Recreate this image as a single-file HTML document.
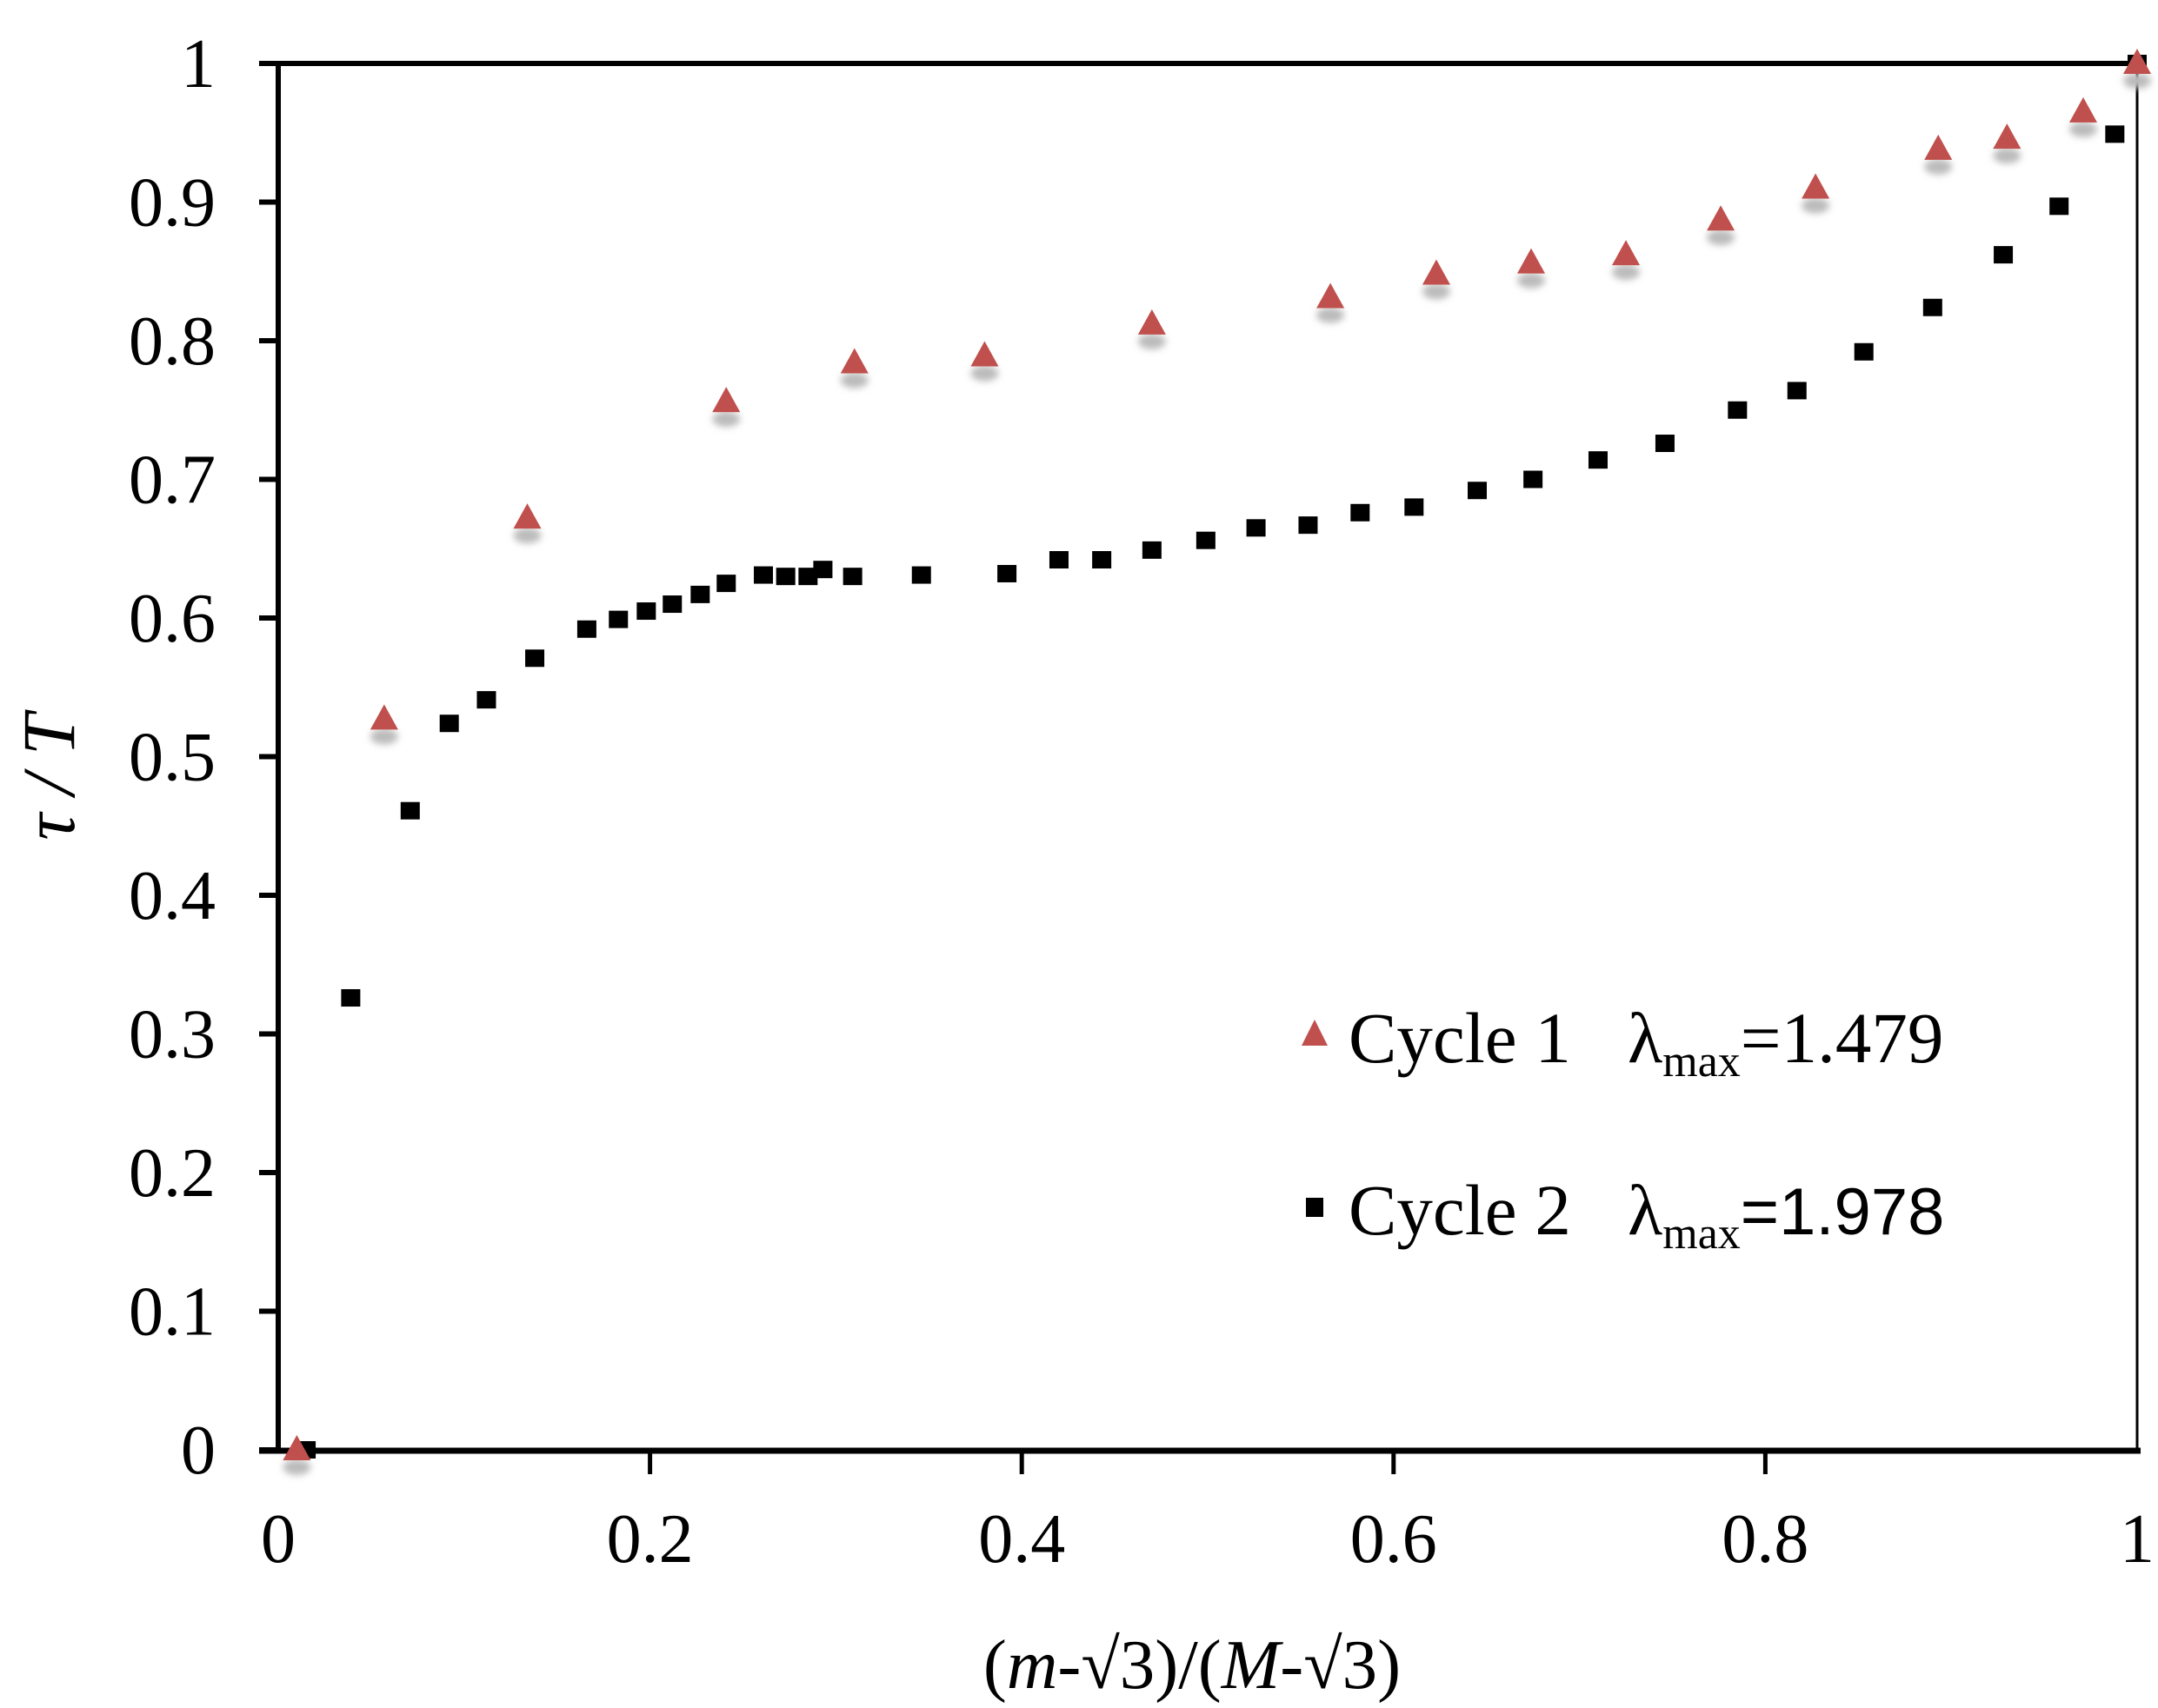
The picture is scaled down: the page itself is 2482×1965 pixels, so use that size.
<!DOCTYPE html>
<html><head><meta charset="utf-8"><style>
html,body{margin:0;padding:0;background:#fff;}
svg{display:block;}
text{font-family:"Liberation Serif","DejaVu Serif",serif;fill:#000;}
</style></head><body>
<svg id="chart" width="2482" height="1965" viewBox="0 0 2482 1965" xmlns="http://www.w3.org/2000/svg">
<defs><filter id="sh" x="-50%" y="-50%" width="200%" height="250%"><feGaussianBlur stdDeviation="4"/></filter></defs>
<g id="frame">
<line x1="298" y1="73" x2="2462" y2="73" stroke="#000" stroke-width="6"/>
<line x1="2458" y1="73" x2="2458" y2="1668" stroke="#000" stroke-width="3"/>
<line x1="320" y1="70" x2="320" y2="1672" stroke="#000" stroke-width="6"/>
<line x1="298" y1="1669" x2="2462" y2="1669" stroke="#000" stroke-width="7"/>
</g>
<g id="ticks"></g>
<g id="marks"></g>
<text transform="translate(85,894) rotate(-90)" text-anchor="middle" font-size="86" font-style="italic">τ / T</text>
<text x="1371" y="1942" text-anchor="middle" font-size="81">(<tspan font-style="italic">m</tspan>-√3)/(<tspan font-style="italic">M</tspan>-√3)</text>
<g>
<polygon points="1512,1173 1527,1203 1497,1203" fill="#c0504d"/>
<text x="1551" y="1222" font-size="83">Cycle 1</text>
<text x="1872" y="1222" font-size="83">λ<tspan font-size="52" dy="16">max</tspan><tspan dy="-16">=1.479</tspan></text>
<rect x="1502" y="1378" width="20" height="22" fill="#000"/>
<text x="1551" y="1420" font-size="83">Cycle 2</text>
<text x="1872" y="1420" font-size="83">λ<tspan font-size="52" dy="16">max</tspan><tspan dy="-16" font-family="Liberation Sans, sans-serif" font-size="76">=1.978</tspan></text>
</g>
</svg>
<script>
const xTicks = [0, 0.2, 0.4, 0.6, 0.8, 1];
const xTickLabels = ["0", "0.2", "0.4", "0.6", "0.8", "1"];
const yTicks = [0, 0.1, 0.2, 0.3, 0.4, 0.5, 0.6, 0.7, 0.8, 0.9, 1];
const yTickLabels = ["0", "0.1", "0.2", "0.3", "0.4", "0.5", "0.6", "0.7", "0.8", "0.9", "1"];
const cycle1X = [0.01, 0.057, 0.134, 0.241, 0.310, 0.380, 0.470, 0.566, 0.623, 0.674, 0.725, 0.776, 0.827, 0.893, 0.930, 0.971, 1.0];
const cycle1Y = [0, 0.527, 0.672, 0.756, 0.784, 0.789, 0.812, 0.831, 0.848, 0.856, 0.862, 0.887, 0.910, 0.938, 0.946, 0.965, 1.0];
const cycle2X = [0.015, 0.039, 0.071, 0.092, 0.112, 0.138, 0.166, 0.183, 0.198, 0.212, 0.227, 0.241, 0.261, 0.273, 0.285, 0.293, 0.309, 0.346, 0.392, 0.420, 0.443, 0.470, 0.499, 0.526, 0.554, 0.582, 0.611, 0.645, 0.675, 0.710, 0.746, 0.785, 0.817, 0.853, 0.890, 0.928, 0.958, 0.988, 1.0];
const cycle2Y = [0, 0.326, 0.461, 0.524, 0.541, 0.571, 0.592, 0.599, 0.605, 0.610, 0.617, 0.625, 0.631, 0.630, 0.630, 0.635, 0.630, 0.631, 0.632, 0.642, 0.642, 0.649, 0.656, 0.665, 0.667, 0.676, 0.680, 0.692, 0.700, 0.714, 0.726, 0.750, 0.764, 0.792, 0.824, 0.862, 0.897, 0.949, 1.0];

const NS = "http://www.w3.org/2000/svg";
const X0 = 320, X1 = 2458, Y0 = 1668, Y1 = 73;
function sx(v){ return X0 + v * (X1 - X0); }
function sy(v){ return Y0 - v * (Y0 - Y1); }
function mk(tag, attrs, parent){
  const e = document.createElementNS(NS, tag);
  for (const k in attrs) e.setAttribute(k, attrs[k]);
  parent.appendChild(e);
  return e;
}
const ticks = document.getElementById('ticks');
const marks = document.getElementById('marks');
xTicks.forEach((v, i) => {
  if (v > 0 && v < 1) {
    const t = mk('line', {x1: sx(v), y1: Y0, x2: sx(v), y2: Y0 + 28, stroke: '#000', 'stroke-width': 5}, ticks);
    
    
  }
  const l = mk('text', {x: sx(v), y: 1797, 'text-anchor': 'middle', 'font-size': 80}, ticks);
  l.textContent = xTickLabels[i];
  
  
});
yTicks.forEach((v, i) => {
  const t = mk('line', {x1: 298, y1: sy(v), x2: X0, y2: sy(v), stroke: '#000', 'stroke-width': 6}, ticks);
  
  
  const l = mk('text', {x: 248, y: sy(v) + 27, 'text-anchor': 'end', 'font-size': 80}, ticks);
  l.textContent = yTickLabels[i];
  
  
});
cycle2X.forEach((v, i) => {
  const x = sx(v), y = sy(cycle2Y[i]);
  const r = mk('rect', {x: x - 11, y: y - 10, width: 22, height: 20, fill: '#000'}, marks);
  
  
});
cycle1X.forEach((v, i) => {
  const x = sx(v), y = sy(cycle1Y[i]);
  const s = mk('ellipse', {cx: x, cy: y + 20, rx: 16, ry: 9, fill: '#bbb', filter: 'url(#sh)'}, marks);
  
  
  const p = mk('polygon', {points: `${x},${y-17} ${x+16},${y+12} ${x-16},${y+12}`, fill: '#c0504d'}, marks);
  
  
});
</script>
</body></html>
